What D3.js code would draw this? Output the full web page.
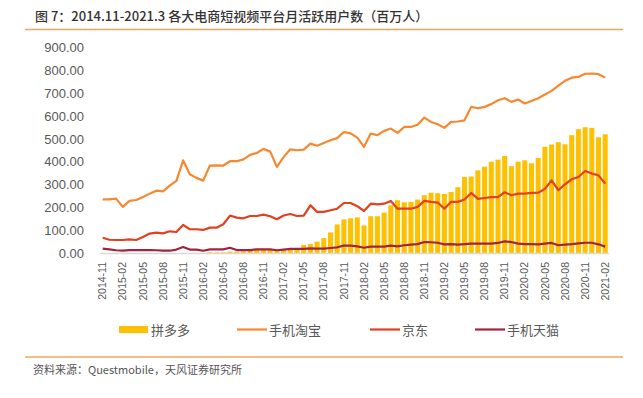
<!DOCTYPE html>
<html><head><meta charset="utf-8">
<script src="https://cdn.jsdelivr.net/npm/d3@7"></script>
<style>
body{margin:0;background:#fff;}
svg{display:block;}
</style></head>
<body>
<svg id="c" width="643" height="398"></svg>
<script>
const months = ["2014-11","2014-12","2015-01","2015-02","2015-03","2015-04","2015-05","2015-06","2015-07","2015-08","2015-09","2015-10","2015-11","2015-12",
"2016-01","2016-02","2016-03","2016-04","2016-05","2016-06","2016-07","2016-08","2016-09","2016-10","2016-11","2016-12",
"2017-01","2017-02","2017-03","2017-04","2017-05","2017-06","2017-07","2017-08","2017-09","2017-10","2017-11","2017-12",
"2018-01","2018-02","2018-03","2018-04","2018-05","2018-06","2018-07","2018-08","2018-09","2018-10","2018-11","2018-12",
"2019-01","2019-02","2019-03","2019-04","2019-05","2019-06","2019-07","2019-08","2019-09","2019-10","2019-11","2019-12",
"2020-01","2020-02","2020-03","2020-04","2020-05","2020-06","2020-07","2020-08","2020-09","2020-10","2020-11","2020-12",
"2021-01","2021-02"];
const tickLabels = ["2014-11","2015-02","2015-05","2015-08","2015-11","2016-02","2016-05","2016-08","2016-11","2017-02","2017-05","2017-08","2017-11",
"2018-02","2018-05","2018-08","2018-11","2019-02","2019-05","2019-08","2019-11","2020-02","2020-05","2020-08","2020-11","2021-02"];
const yTicks = [0,100,200,300,400,500,600,700,800,900];

const pdd = [0,0,0,0,0,0,0,0,0,0,0,0,0,0,0,0,3,3,3,6,6,7,10,13,13,13,10,16,19,20,35,39,50,65,90,125,147,152,156,121,161,161,177,209,231,222,224,234,253,264,262,259,267,288,333,335,362,378,400,409,425,380,400,406,393,416,465,475,485,476,516,542,551,548,507,520];
const taobao = [235,235,238,202,228,232,245,260,273,270,295,316,406,345,329,317,383,384,383,402,402,410,430,438,456,444,377,420,454,450,453,479,470,482,494,503,530,524,505,465,523,516,535,545,526,552,552,562,593,574,564,548,574,576,581,640,634,640,652,669,678,662,672,655,666,678,694,710,733,754,768,771,785,786,783,768];
const jd = [67,58,57,57,60,57,70,85,89,86,95,92,123,104,104,101,111,111,126,164,155,152,162,162,168,161,148,164,171,162,164,209,180,180,187,194,219,219,205,184,216,213,216,228,194,194,194,202,228,224,221,194,224,224,234,263,237,241,245,245,266,253,260,260,263,264,281,318,275,301,323,333,359,348,340,304];
const tmall = [19,16,12,10,13,13,13,13,12,10,10,15,26,15,15,10,16,16,16,23,13,13,13,16,16,16,12,15,18,18,18,20,19,19,22,25,32,32,29,23,28,28,28,32,29,34,37,39,48,47,45,38,39,37,39,41,41,41,41,44,51,48,41,39,39,38,41,44,34,37,39,42,45,45,38,28];

const seriesNames = ["拼多多","手机淘宝","京东","手机天猫"];
const colors = {pdd:"#FFC000", taobao:"#F7882F", jd:"#E2401F", tmall:"#A3233F"};

const svg = d3.select("#c");
const cjk = "'Noto Sans CJK SC','Noto Sans',sans-serif";
const num = "'Liberation Sans',Arial,sans-serif";

// title
svg.append("text").attr("x",35).attr("y",21).attr("font-family",cjk).attr("font-size",13).attr("font-weight",500)
  .attr("fill","#333").text("图 7：2014.11-2021.3 各大电商短视频平台月活跃用户数（百万人）");
svg.append("line").attr("x1",25).attr("x2",623).attr("y1",29.5).attr("y2",29.5).attr("stroke","#F4A460").attr("stroke-width",1.5);

const x = d3.scaleBand().domain(months).range([99.35,608.55]).paddingInner(0.25).paddingOuter(0.125);
const y = d3.scaleLinear().domain([0,900]).range([253,47.5]);

// y axis labels
const yAxis = d3.axisLeft(y).tickValues(yTicks).tickFormat(d3.format(".2f")).tickSize(0).tickPadding(0);
const gy = svg.append("g").attr("transform","translate(84,0)").call(yAxis);
gy.select(".domain").remove();
gy.selectAll("text").attr("font-family",num).attr("font-size",13).attr("fill","#595959");

// bars
svg.append("g").selectAll("rect").data(months).join("rect")
  .attr("x",d=>x(d)).attr("width",x.bandwidth())
  .attr("y",(d,i)=>y(pdd[i])).attr("height",(d,i)=>y(0)-y(pdd[i]))
  .attr("fill",colors.pdd);

// x axis
const xAxis = d3.axisBottom(x).tickValues(tickLabels).tickSize(0).tickPadding(0);
const gx = svg.append("g").attr("transform","translate(0,253)").call(xAxis);
gx.select(".domain").attr("stroke","#D9D9D9").attr("stroke-width",1.5);
gx.selectAll("text").attr("font-family",num).attr("font-size",10.5).attr("fill","#595959")
  .attr("text-anchor","end").attr("transform","rotate(-90)").attr("x",-9).attr("y",0).attr("dy","0.35em");

// lines
const line = d3.line().x((d,i)=>x(months[i])+x.bandwidth()/2).y(d=>y(d));
[[taobao,colors.taobao],[jd,colors.jd],[tmall,colors.tmall]].forEach(([arr,c])=>{
  svg.append("path").datum(arr).attr("d",line).attr("fill","none").attr("stroke",c).attr("stroke-width",2.2).attr("stroke-linejoin","round");
});

// legend
const lg = svg.append("g").attr("font-family",cjk).attr("font-size",13).attr("fill","#595959");
lg.append("rect").attr("x",119).attr("y",326).attr("width",29).attr("height",7).attr("fill",colors.pdd);
lg.append("text").attr("x",151).attr("y",334.5).text(seriesNames[0]);
[[237,colors.taobao,seriesNames[1]],[370,colors.jd,seriesNames[2]],[475,colors.tmall,seriesNames[3]]].forEach(([lx,c,t])=>{
  lg.append("line").attr("x1",lx).attr("x2",lx+30).attr("y1",329.5).attr("y2",329.5).attr("stroke",c).attr("stroke-width",2.2);
  lg.append("text").attr("x",lx+32).attr("y",334.5).text(t);
});

// footer
svg.append("line").attr("x1",25).attr("x2",623).attr("y1",357).attr("y2",357).attr("stroke","#F4A460").attr("stroke-width",1.5);
svg.append("text").attr("x",33).attr("y",374).attr("font-family",cjk).attr("font-size",11).attr("fill","#555")
  .text("资料来源：Questmobile，天风证券研究所");
</script>
</body></html>
